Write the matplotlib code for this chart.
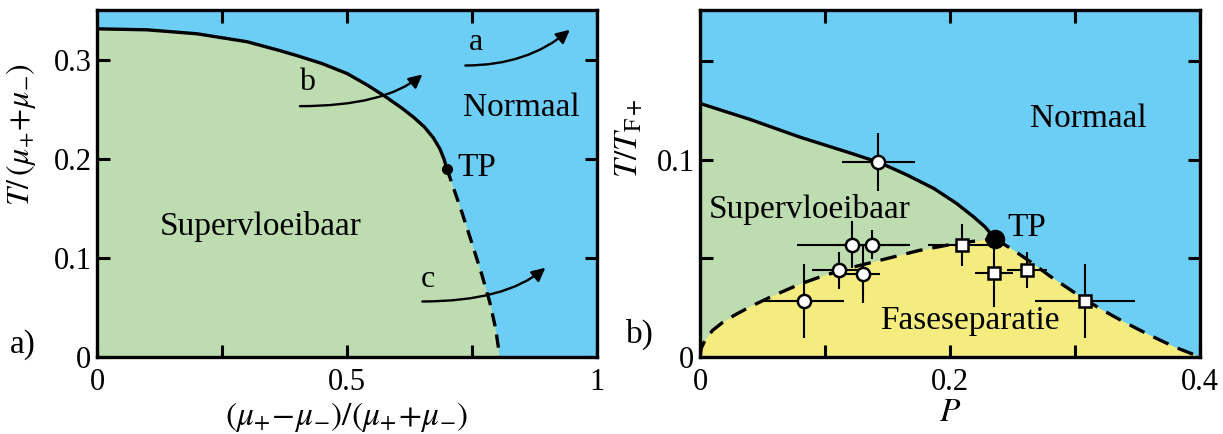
import numpy as np
import matplotlib.pyplot as plt
from matplotlib.patches import FancyArrowPatch
from matplotlib.ticker import MultipleLocator

plt.rcParams['font.family'] = ['Liberation Serif', 'DejaVu Serif']
plt.rcParams['mathtext.fontset'] = 'stix'

BLUE = "#6CCDF5"
GREEN = "#BDDDB0"
YELLOW = "#F5EC80"

# ---- panel a data ----
a_solid_x = [0.0, 0.1, 0.2, 0.3, 0.366, 0.4, 0.45, 0.5, 0.54, 0.576, 0.61,
             0.633, 0.655, 0.673, 0.686, 0.694, 0.700]
a_solid_y = [0.331, 0.330, 0.326, 0.318, 0.309, 0.304, 0.296, 0.286, 0.2745,
             0.263, 0.251, 0.242, 0.232, 0.221, 0.210, 0.200, 0.190]
a_dash_x = [0.700, 0.715, 0.73, 0.75, 0.77, 0.786, 0.797, 0.806]
a_dash_y = [0.190, 0.168, 0.146, 0.115, 0.083, 0.055, 0.030, 0.0]
a_tp = (0.700, 0.190)
# arrows: (start, end, end angle, label position, label)
a_arrows = [((0.737, 0.294), (0.946, 0.330), 40, (0.745, 0.303), "a"),
            ((0.406, 0.253), (0.651, 0.285), 40, (0.405, 0.262), "b"),
            ((0.651, 0.056), (0.897, 0.090), 40, (0.648, 0.064), "c")]

# ---- panel b data ----
b_solid_x = [0.0, 0.04, 0.08, 0.12, 0.144, 0.165, 0.187, 0.205, 0.219, 0.228, 0.236]
b_solid_y = [0.1286, 0.1205, 0.1115, 0.1035, 0.0985, 0.0925, 0.0855, 0.078,
             0.071, 0.066, 0.060]
b_low_x = [0.0, 0.001, 0.004, 0.01, 0.018, 0.027, 0.04, 0.06, 0.08, 0.1,
           0.125, 0.15, 0.175, 0.2, 0.22, 0.236]
b_low_y = [0.0, 0.0045, 0.0085, 0.0135, 0.0175, 0.0210, 0.0255, 0.0315, 0.0370,
           0.0415, 0.0460, 0.0500, 0.0540, 0.0570, 0.0588, 0.060]
b_high_x = [0.236, 0.25, 0.265, 0.28, 0.30, 0.32, 0.34, 0.36, 0.38, 0.40]
b_high_y = [0.060, 0.0545, 0.048, 0.041, 0.0325, 0.0245, 0.0175, 0.011, 0.005, 0.0]
b_tp = (0.236, 0.060)

circ_x = [0.1426, 0.1214, 0.1379, 0.1114, 0.1300, 0.0833]
circ_y = [0.0988, 0.0569, 0.0569, 0.0440, 0.0423, 0.0284]
circ_xerr = [0.029, 0.044, 0.030, 0.022, 0.014, 0.032]
circ_yerr = [0.0148, 0.012, 0.0074, 0.0093, 0.015, 0.019]

sq_x = [0.2093, 0.2352, 0.2619, 0.3080]
sq_y = [0.0569, 0.0425, 0.0441, 0.0284]
sq_xerr = [0.027, 0.0153, 0.016, 0.040]
sq_yerr = [0.0106, 0.017, 0.009, 0.019]

fig = plt.figure(figsize=(12.23, 4.34), dpi=100)
ax1 = fig.add_axes([0.0793, 0.1774, 0.4087, 0.7996])
ax2 = fig.add_axes([0.5724, 0.1774, 0.4088, 0.7996])

def style(ax):
    for s in ax.spines.values():
        s.set_linewidth(2.4)
    ax.tick_params(which='both', direction='in', top=True, right=True,
                   length=9, width=2.2, labelsize=22, pad=8)
    ax.tick_params(axis='y', pad=4)

# ---- panel a ----
ax1.set_facecolor(BLUE)
bx = a_solid_x + a_dash_x[1:]
by = a_solid_y + a_dash_y[1:]
ax1.fill(bx + [0.0], by + [0.0], color=GREEN, lw=0)
ax1.plot(a_solid_x, a_solid_y, color='k', lw=2.4)
ax1.plot(a_dash_x, a_dash_y, color='k', lw=2.4, ls=(0, (4, 2.5)))
ax1.plot(*a_tp, 'o', color='k', ms=7)
for (p0, p1, ang, lp, lab) in a_arrows:
    ax1.add_patch(FancyArrowPatch(p0, p1,
                                  connectionstyle=f"angle3,angleA=0,angleB={ang}",
                                  arrowstyle="-|>,head_length=8,head_width=4",
                                  lw=1.7, color='k', shrinkA=0, shrinkB=0))
    ax1.text(lp[0], lp[1], lab, fontsize=23, ha='left', va='bottom')
ax1.text(0.848, 0.251, "Normaal", fontsize=24, ha='center', va='center')
ax1.text(0.327, 0.132, "Supervloeibaar", fontsize=24, ha='center', va='center')
ax1.text(0.722, 0.191, "TP", fontsize=24, ha='left', va='center')
ax1.set_xlim(0, 1)
ax1.set_ylim(0, 0.35)
ax1.set_xticks([0, 0.5, 1])
ax1.set_xticklabels(["0", "0.5", "1"])
ax1.xaxis.set_minor_locator(MultipleLocator(0.25))
ax1.set_yticks([0, 0.1, 0.2, 0.3])
ax1.set_yticklabels(["0", "0.1", "0.2", "0.3"])
style(ax1)
ax1.set_xlabel(r"$(\mu_{+}\!-\!\mu_{-})/(\mu_{+}\!+\!\mu_{-})$", fontsize=24, labelpad=2)
ax1.set_ylabel(r"$T/\,(\mu_{+}\!+\!\mu_{-})$", fontsize=23)
ax1.yaxis.set_label_coords(-0.118, 0.64)
fig.text(0.008, 0.205, "a)", fontsize=24, ha='left', va='center')

# ---- panel b ----
ax2.set_facecolor(BLUE)
gx = [0.0] + b_solid_x + b_low_x[::-1]
gy = [0.0] + b_solid_y + b_low_y[::-1]
ax2.fill(gx, gy, color=GREEN, lw=0)
yx = b_low_x + b_high_x[1:]
yy = b_low_y + b_high_y[1:]
ax2.fill(yx, yy, color=YELLOW, lw=0)
ax2.plot(b_solid_x, b_solid_y, color='k', lw=2.4)
ax2.plot(b_low_x, b_low_y, color='k', lw=2.4, ls=(0, (5, 3)))
ax2.plot(b_high_x, b_high_y, color='k', lw=2.4, ls=(0, (5, 3)))
ax2.errorbar(circ_x, circ_y, xerr=circ_xerr, yerr=circ_yerr, fmt='o',
             mfc='white', mec='k', mew=1.8, ms=9.5, ecolor='k', elinewidth=1.5,
             capsize=0, zorder=4)
ax2.errorbar(sq_x, sq_y, xerr=sq_xerr, yerr=sq_yerr, fmt='s',
             mfc='white', mec='k', mew=1.8, ms=9, ecolor='k', elinewidth=1.5,
             capsize=0, zorder=4)
ax2.plot(*b_tp, 'o', color='k', ms=13, zorder=5)
ax2.text(0.311, 0.1206, "Normaal", fontsize=24, ha='center', va='center')
ax2.text(0.088, 0.075, "Supervloeibaar", fontsize=24, ha='center', va='center')
ax2.text(0.2456, 0.0656, "TP", fontsize=24, ha='left', va='center')
ax2.text(0.216, 0.0183, "Faseseparatie", fontsize=24, ha='center', va='center')
ax2.set_xlim(0, 0.4)
ax2.set_ylim(0, 0.176)
ax2.set_xticks([0, 0.2, 0.4])
ax2.set_xticklabels(["0", "0.2", "0.4"])
ax2.xaxis.set_minor_locator(MultipleLocator(0.1))
ax2.set_yticks([0, 0.1])
ax2.set_yticklabels(["0", "0.1"])
ax2.yaxis.set_minor_locator(MultipleLocator(0.05))
style(ax2)
ax2.set_xlabel(r"$P$", fontsize=24, labelpad=0)
ax2.set_ylabel(r"$T/T_{\mathrm{F}+}$", fontsize=24)
ax2.yaxis.set_label_coords(-0.11, 0.63)
fig.text(0.512, 0.23, "b)", fontsize=24, ha='left', va='center')

fig.savefig("out.png", dpi=100)
